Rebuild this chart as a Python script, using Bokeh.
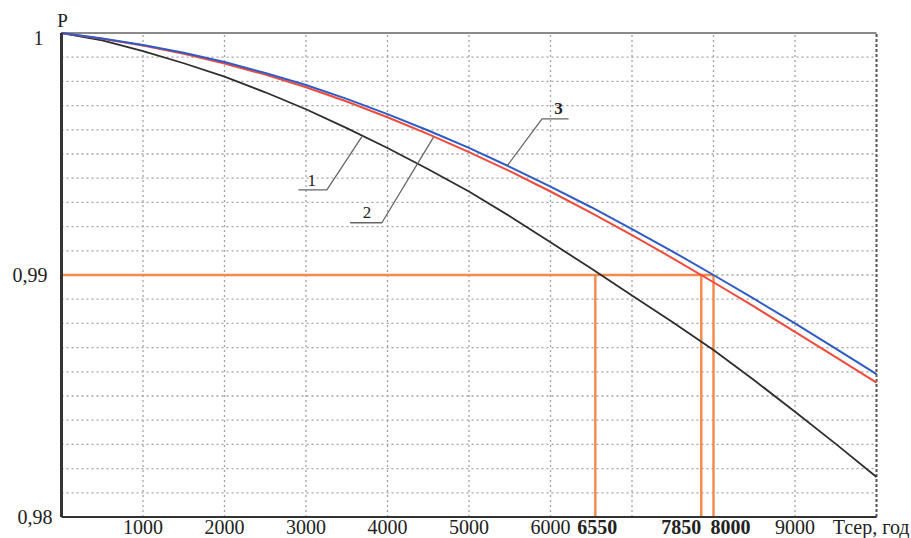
from bokeh.plotting import figure
from bokeh.models import Range1d, Label
from bokeh.embed import file_html
from bokeh.resources import INLINE

# ---- data ----
T = [0, 500, 1000, 1500, 2000, 2500, 3000, 3500, 4000, 4500, 5000,
     5500, 6000, 6500, 7000, 7500, 8000, 8500, 9000, 9500, 10000]
P_curve1 = [1.0, 0.99970, 0.99925, 0.99875, 0.99820, 0.99755, 0.99685, 0.99607, 0.99525, 0.99437, 0.99345,
            0.99243, 0.99135, 0.99027, 0.98915, 0.98805, 0.98690, 0.98565, 0.98435, 0.98302, 0.98165]
P_curve2 = [1.0, 0.99976, 0.99948, 0.99914, 0.99874, 0.99828, 0.99776, 0.99717, 0.99652, 0.99582, 0.99508,
            0.99429, 0.99345, 0.99257, 0.99165, 0.99069, 0.98970, 0.98869, 0.98765, 0.98661, 0.98555]
P_curve3 = [1.0, 0.99977, 0.99950, 0.99918, 0.99880, 0.99835, 0.99785, 0.99728, 0.99665, 0.99597, 0.99525,
            0.99447, 0.99365, 0.99280, 0.99190, 0.99097, 0.99000, 0.98901, 0.98800, 0.98696, 0.98590]

P_level = 0.99
marked_T = [6550, 7850, 8000]
marked_labels = ["6550", "7850", "8000"]

x_tick_values = [1000, 2000, 3000, 4000, 5000, 6000, 9000]
x_tick_labels = ["1000", "2000", "3000", "4000", "5000", "6000", "9000"]
x_grid_values = [1000, 2000, 3000, 4000, 5000, 6000, 7000, 8000, 9000]
y_tick_values = [1.0, 0.99, 0.98]
y_tick_labels = ["1", "0,99", "0,98"]
y_grid_values = [0.981, 0.982, 0.983, 0.984, 0.985, 0.986, 0.987, 0.988, 0.989, 0.99,
                 0.991, 0.992, 0.993, 0.994, 0.995, 0.996, 0.997, 0.998, 0.999]

x_title = "Тсер, год"
y_title = "P"

curve_names = ["1", "2", "3"]
name_T = [3072, 3747, 6099]
name_P = [0.99390, 0.99260, 0.99687]
leader_T = [[2907, 3256, 3686], [3542, 3931, 4565], [6222, 5896, 5466]]
leader_P = [[0.99352, 0.99352, 0.99572], [0.99216, 0.99216, 0.99570], [0.99645, 0.99645, 0.99450]]

T_min, T_max = 0, 10000
P_min, P_max = 0.98, 1.0

# ---- layout: the frame fills the whole canvas, the plot box sits inside it ----
W, H = 911, 538
box_left, box_right = 61, 876      # pixel edges of the plot box
box_top, box_bottom = 32.5, 516.5
sx = (box_right - box_left) / (T_max - T_min)
sy = (box_bottom - box_top) / (P_max - P_min)
x0 = T_min - box_left / sx
x1 = T_max + (W - box_right) / sx
y1 = P_max + box_top / sy
y0 = P_min - (H - box_bottom) / sy

def py(pix):
    """data P for a pixel row"""
    return P_max - (pix - box_top) / sy

serif = "Liberation Serif"
p = figure(width=W, height=H, output_backend="svg", toolbar_location=None,
           x_range=Range1d(x0, x1), y_range=Range1d(y0, y1),
           x_axis_location=None, y_axis_location=None, title=None,
           min_border=0, min_border_left=0, min_border_right=0,
           min_border_top=0, min_border_bottom=0)
p.outline_line_color = None
p.background_fill_color = "white"
p.border_fill_color = "white"
p.xgrid.visible = False
p.ygrid.visible = False

# dotted grid
grid_color = "#a3a3a3"
p.segment(x0=x_grid_values, y0=[P_min] * len(x_grid_values), x1=x_grid_values, y1=[P_max] * len(x_grid_values),
          line_color=grid_color, line_dash="2 3", line_width=1.3)
p.segment(x0=[T_min] * len(y_grid_values), y0=y_grid_values, x1=[T_max] * len(y_grid_values), y1=y_grid_values,
          line_color=grid_color, line_dash="2 3", line_width=1.3)

# box borders
p.segment(x0=[T_min], y0=[P_max], x1=[T_max], y1=[P_max], line_color="#8a8a8a", line_width=2)
p.segment(x0=[T_max], y0=[P_min], x1=[T_max], y1=[P_max], line_color="#555555", line_width=2, line_dash="3 2")

# orange reading lines
orange = "#f5894a"
p.segment(x0=[T_min], y0=[P_level], x1=[marked_T[-1]], y1=[P_level], line_color=orange, line_width=2.4)
p.segment(x0=marked_T, y0=[P_min] * len(marked_T), x1=marked_T, y1=[P_level] * len(marked_T),
          line_color=orange, line_width=2.4)

# curves
p.line(T, P_curve1, line_color="#2e2e2e", line_width=1.8)
p.line(T, P_curve2, line_color="#f04a3c", line_width=2)
p.line(T, P_curve3, line_color="#2f5cc4", line_width=2)

# axes lines
p.segment(x0=[T_min], y0=[P_min], x1=[T_max], y1=[P_min], line_color="#333333", line_width=2.2)
p.segment(x0=[T_min], y0=[P_min], x1=[T_min], y1=[P_max], line_color="#333333", line_width=3)

# leader lines and curve names
for xs, ys in zip(leader_T, leader_P):
    p.line(xs, ys, line_color="#666666", line_width=1.3)
for nm, tx, ty in zip(curve_names, name_T, name_P):
    p.add_layout(Label(x=tx, y=ty, text=nm, text_font=serif, text_font_size="17px",
                       text_color="#222222", text_align="center", text_baseline="middle",
                       text_font_style="bold" if nm == "3" else "normal"))

# x tick labels
label_P = py(526)
for v, t in zip(x_tick_values, x_tick_labels):
    p.add_layout(Label(x=v, y=label_P, text=t, text_font=serif, text_font_size="20px",
                       text_color="#222222", text_align="center", text_baseline="middle"))
aligns = ["center", "right", "left"]
offs = [2, 0, -3]
for v, t, a, o in zip(marked_T, marked_labels, aligns, offs):
    p.add_layout(Label(x=v, y=label_P, x_offset=o, text=t, text_font=serif, text_font_size="20px",
                       text_font_style="bold", text_color="#222222", text_align=a,
                       text_baseline="middle"))
p.add_layout(Label(x=T_max, y=label_P, x_offset=33, text=x_title, text_font=serif, text_font_size="20px",
                   text_color="#222222", text_align="right", text_baseline="middle"))

# y tick labels
y_offs = [-18, -14, -9]
y_pix_shift = [5, 0, 0]
for v, t, o, s in zip(y_tick_values, y_tick_labels, y_offs, y_pix_shift):
    p.add_layout(Label(x=T_min, y=v - s / sy, x_offset=o, text=t, text_font=serif, text_font_size="20px",
                       text_color="#222222", text_align="right", text_baseline="middle"))
p.add_layout(Label(x=T_min, y=py(20), x_offset=1, text=y_title, text_font=serif,
                   text_font_size="19px", text_color="#222222", text_align="center",
                   text_baseline="middle"))

open("out.html", "w").write(file_html(p, INLINE))
